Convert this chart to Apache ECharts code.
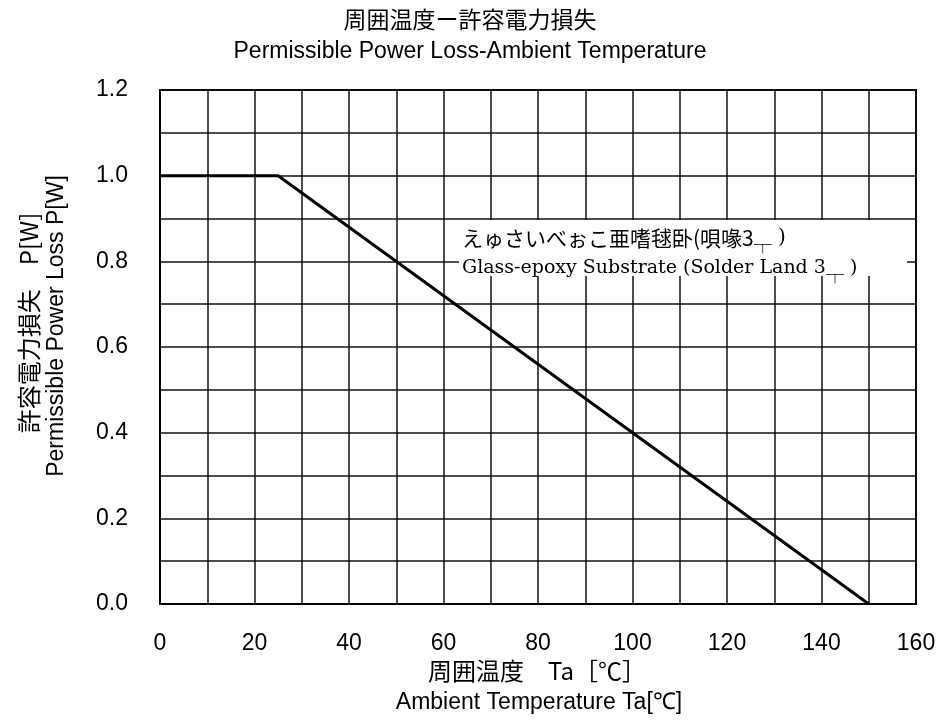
<!DOCTYPE html>
<html><head><meta charset="utf-8">
<script src="https://cdn.jsdelivr.net/npm/echarts@6/dist/echarts.min.js"></script>
<style>html,body{margin:0;padding:0;background:#fff}#c{width:941px;height:720px}</style>
</head><body><div id="c"></div>
<script>
// Data
const temperature = [0, 25, 150];
const powerLoss = [1.0, 1.0, 0.0];
const xTickLabels = [0, 20, 40, 60, 80, 100, 120, 140, 160];
const yTickLabels = [0.0, 0.2, 0.4, 0.6, 0.8, 1.0, 1.2];
const titleJa = '周囲温度ー許容電力損失';
const titleEn = 'Permissible Power Loss-Ambient Temperature';
const xNameJa = '周囲温度　Ta［℃］';
const xNameEn = 'Ambient Temperature Ta[℃]';
const yNameJa = '許容電力損失　P[W]';
const yNameEn = 'Permissible Power Loss P[W]';
const noteJa = 'えゅさいべぉこ亜嗜毬卧(唄喙3';
const noteEn = 'Glass-epoxy Substrate (Solder Land 3';

const seriesData = temperature.map((t, i) => [t, powerLoss[i]]);
const near = (a, b) => Math.abs(a - b) < 1e-6;

const chart = echarts.init(document.getElementById('c'), null, {renderer: 'canvas'});
const SANS = '"Liberation Sans", Arial, sans-serif';
const JP = '"Noto Sans CJK JP", sans-serif';
const SERIF = '"DejaVu Serif", "Liberation Serif", serif';

chart.setOption({
  animation: false,
  backgroundColor: '#fff',
  grid: {left: 160, right: 25, top: 90, bottom: 116, show: true, borderColor: '#000', borderWidth: 2, containLabel: false},
  xAxis: {
    type: 'value', min: 0, max: 160, interval: 10,
    axisLine: {show: true, lineStyle: {color: '#000', width: 2}},
    axisTick: {show: false},
    splitLine: {show: true, lineStyle: {color: '#111', width: 1.5}},
    axisLabel: {
      color: '#000', fontFamily: SANS, fontSize: 23, margin: 28,
      formatter: v => xTickLabels.some(t => near(t, v)) ? String(v) : ''
    }
  },
  yAxis: {
    type: 'value', min: 0, max: 1.2, interval: 0.1,
    axisLine: {show: true, lineStyle: {color: '#000', width: 2}},
    axisTick: {show: false},
    splitLine: {show: true, lineStyle: {color: '#111', width: 1.5}},
    axisLabel: {
      color: '#000', fontFamily: SANS, fontSize: 23, margin: 32,
      formatter: v => yTickLabels.some(t => near(t, v)) ? v.toFixed(1) : ''
    }
  },
  series: [{
    type: 'line', data: seriesData, showSymbol: false, symbol: 'none',
    lineStyle: {color: '#000', width: 3}, z: 5
  }],
  graphic: [
    {type: 'text', x: 470, y: 19, style: {text: titleJa, font: '23px ' + JP, fill: '#000', align: 'center', verticalAlign: 'middle'}},
    {type: 'text', x: 470, y: 52, style: {text: titleEn, font: '23px ' + SANS, fill: '#000', align: 'center', verticalAlign: 'middle'}},
    {type: 'text', x: 537, y: 671, style: {text: xNameJa, font: '24px ' + JP, fill: '#000', align: 'center', verticalAlign: 'middle'}},
    {type: 'text', x: 539, y: 703, style: {text: xNameEn, font: '23px ' + SANS, fill: '#000', align: 'center', verticalAlign: 'middle'}},
    {type: 'text', x: 29, y: 323, rotation: Math.PI / 2, style: {text: yNameJa, font: '24px ' + JP, fill: '#000', align: 'center', verticalAlign: 'middle'}},
    {type: 'text', x: 57, y: 326, rotation: Math.PI / 2, style: {text: yNameEn, font: '23px ' + SANS, fill: '#000', align: 'center', verticalAlign: 'middle'}},
    {type: 'rect', z: 10, shape: {x: 459, y: 220, width: 448, height: 56}, style: {fill: '#fff'}},
    {type: 'text', z: 11, x: 462, y: 238, style: {
      text: noteJa + '{s|┬}{n| )}', font: '21px ' + JP, fill: '#000', verticalAlign: 'middle',
      rich: {s: {fontSize: 18, fontFamily: JP, padding: [12, 0, 0, 0]}, n: {fontSize: 20, fontFamily: SERIF}}
    }},
    {type: 'text', z: 11, x: 462, y: 268, style: {
      text: noteEn + '{s|┬}{n| )}', font: '19px ' + SERIF, fill: '#000', verticalAlign: 'middle',
      rich: {s: {fontSize: 18, fontFamily: JP, padding: [12, 0, 0, 0]}, n: {fontSize: 19, fontFamily: SERIF}}
    }}
  ]
});
</script>
</body></html>
